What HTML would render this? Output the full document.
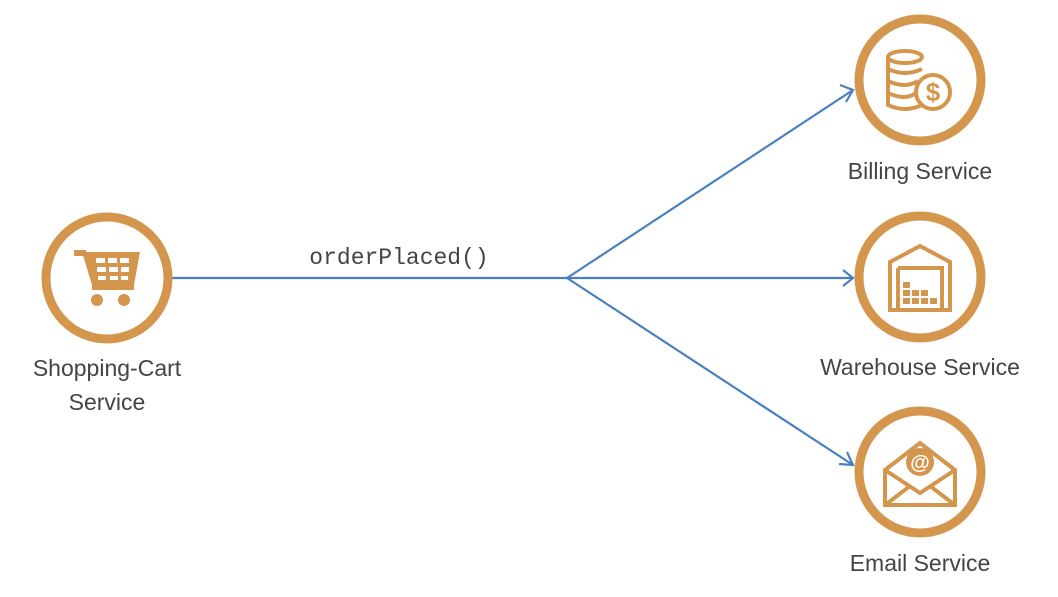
<!DOCTYPE html>
<html><head><style>body{margin:0;background:#fff;}</style></head><body>
<svg width="1058" height="592" xmlns="http://www.w3.org/2000/svg" font-family="Liberation Sans, sans-serif">
<rect width="1058" height="592" fill="#fff"/>
<g stroke="#4a80c2" stroke-width="2.2" fill="none">
<line x1="172" y1="278" x2="567" y2="278"/>
<line x1="567" y1="278" x2="853" y2="90"/>
<line x1="567" y1="278" x2="853" y2="278"/>
<line x1="567" y1="278" x2="853" y2="465"/>
<polyline points="840,85 853,90 846,102"/>
<polyline points="843,270 853,278 843,286"/>
<polyline points="847,452 853,465 839,464"/>
</g>
<g fill="none" stroke="#d4954c" stroke-width="9">
<circle cx="107" cy="278" r="61"/>
<circle cx="920" cy="80" r="61"/>
<circle cx="920" cy="277" r="61"/>
<circle cx="920" cy="472" r="61"/>
</g>
<g fill="#d4954c">
<rect x="74" y="250" width="12" height="6"/>
<polygon points="82,252 140,252 134,285 92,285"/>
<rect x="92" y="285" width="42" height="5"/>
<circle cx="97" cy="300" r="6"/><circle cx="124" cy="300" r="6"/>
</g>
<g fill="#fff">
<rect x="96" y="258" width="9" height="5"/><rect x="108" y="258" width="9" height="5"/><rect x="120" y="258" width="9" height="5"/>
<rect x="97" y="267" width="9" height="5"/><rect x="109" y="267" width="9" height="5"/><rect x="121" y="267" width="8" height="5"/>
<rect x="98" y="276" width="8" height="4"/><rect x="110" y="276" width="8" height="4"/><rect x="121" y="276" width="7" height="4"/>
</g>
<g fill="none" stroke="#d4954c" stroke-width="4">
<ellipse cx="905" cy="57" rx="17" ry="6"/>
<path d="M888 57 v48 q17 8 34 0"/>
<path d="M888 69 q17 8 34 0 M888 81 q17 8 30 0 M888 93 q17 8 28 0"/>
<circle cx="933" cy="92" r="17" fill="#fff"/>
</g>
<text x="933" y="101" font-size="26" font-weight="bold" fill="#d4954c" text-anchor="middle">$</text>
<g fill="none" stroke="#d4954c" stroke-width="4">
<path d="M890 262 L920 246 L950 262 V310 H890 Z"/>
<path d="M898 268 H942 V310 M898 268 V310"/>
</g>
<g fill="#d4954c">
<rect x="903" y="298" width="7" height="6"/><rect x="912" y="298" width="7" height="6"/><rect x="921" y="298" width="7" height="6"/><rect x="930" y="298" width="7" height="6"/>
<rect x="903" y="290" width="7" height="6"/><rect x="912" y="290" width="7" height="6"/><rect x="921" y="290" width="7" height="6"/>
<rect x="903" y="282" width="7" height="6"/>
</g>
<g fill="none" stroke="#d4954c" stroke-width="4">
<path d="M885 470 L920 443 L955 470 V505 H885 Z"/>
<path d="M885 470 L920 493 L955 470 M885 505 L910 486 M955 505 L930 486"/>
</g>
<circle cx="920" cy="462" r="14" fill="#d4954c"/>
<text x="920" y="469" font-size="20" fill="#fff" text-anchor="middle" font-weight="bold">@</text>
<g fill="#444" font-size="23" text-anchor="middle">
<text x="107" y="376">Shopping-Cart</text>
<text x="107" y="410">Service</text>
<text x="920" y="179">Billing Service</text>
<text x="920" y="375">Warehouse Service</text>
<text x="920" y="571">Email Service</text>
</g>
<text x="399" y="264" font-family="Liberation Mono, monospace" font-size="23" fill="#444" text-anchor="middle">orderPlaced()</text>
</svg>
</body></html>
